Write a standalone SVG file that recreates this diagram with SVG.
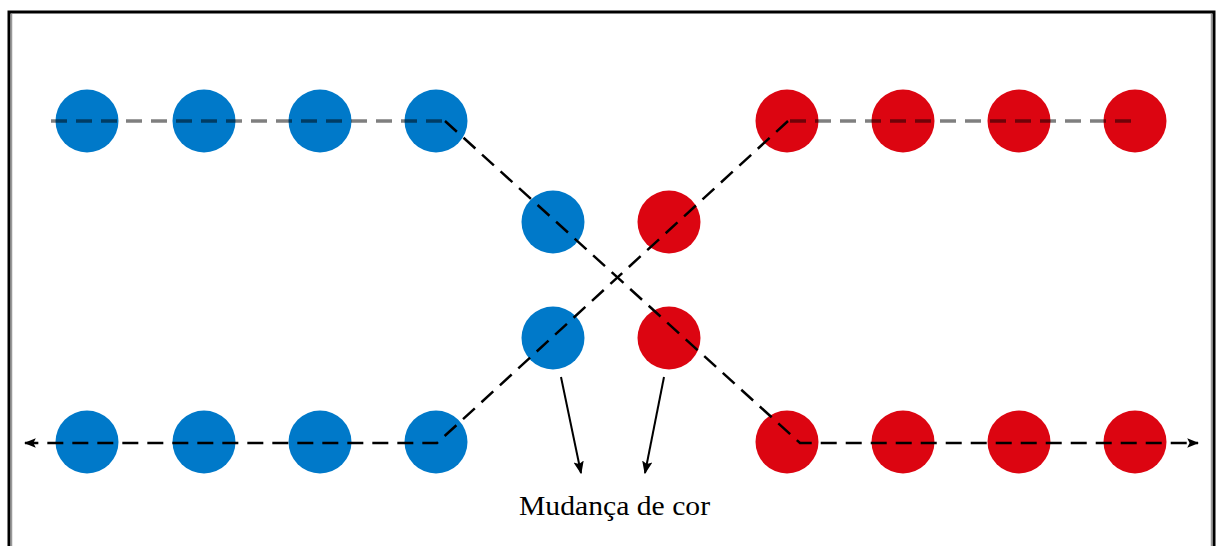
<svg xmlns="http://www.w3.org/2000/svg" width="1217" height="546" viewBox="0 0 1217 546">
<defs>
<style>
.blue{fill:#0079c9}
.red{fill:#dc0511}
.dash{fill:none;stroke:#000;stroke-width:2.5;stroke-dasharray:16 9}
.faint{stroke-opacity:0.5;stroke-width:3.5}
.arr{fill:none;stroke:#000;stroke-width:2}
.label{font-family:"Liberation Serif","Times New Roman",serif;font-size:28px;fill:#000}
</style>
<marker id="ah" viewBox="0 0 10 10" refX="9" refY="5" markerWidth="12" markerHeight="12" markerUnits="userSpaceOnUse" orient="auto">
<path d="M0,1 L10,5 L0,9 L2,5 Z" fill="#000"/>
</marker>
<marker id="ah2" viewBox="0 0 10 10" refX="9" refY="5" markerWidth="13" markerHeight="13" markerUnits="userSpaceOnUse" orient="auto">
<path d="M0,1 L10,5 L0,9 L2,5 Z" fill="#000"/>
</marker>
</defs>
<rect x="0" y="0" width="1217" height="546" fill="#fff"/>
<path d="M9,546 L9,12 L1214,12 L1214,546" fill="none" stroke="#000" stroke-width="3"/>
<path d="M11.5,546 L11.5,14 M1211.5,14 L1211.5,546" fill="none" stroke="#999" stroke-width="1.5"/>

<g id="b1"><circle class="blue" cx="87" cy="121" r="31.5"/></g>
<g id="b2"><circle class="blue" cx="204" cy="121" r="31.5"/></g>
<g id="b3"><circle class="blue" cx="320" cy="121" r="31.5"/></g>
<g id="b4"><circle class="blue" cx="436" cy="121" r="31.5"/></g>
<g id="b5"><circle class="blue" cx="553" cy="222" r="31.5"/></g>
<g id="b6"><circle class="blue" cx="553" cy="338" r="31.5"/></g>
<g id="b7"><circle class="blue" cx="87" cy="442" r="31.5"/></g>
<g id="b8"><circle class="blue" cx="204" cy="442" r="31.5"/></g>
<g id="b9"><circle class="blue" cx="320" cy="442" r="31.5"/></g>
<g id="b10"><circle class="blue" cx="436" cy="442" r="31.5"/></g>

<g id="r1"><circle class="red" cx="787" cy="121" r="31.5"/></g>
<g id="r2"><circle class="red" cx="903" cy="121" r="31.5"/></g>
<g id="r3"><circle class="red" cx="1019" cy="121" r="31.5"/></g>
<g id="r4"><circle class="red" cx="1135" cy="121" r="31.5"/></g>
<g id="r5"><circle class="red" cx="669" cy="222" r="31.5"/></g>
<g id="r6"><circle class="red" cx="669" cy="338" r="31.5"/></g>
<g id="r7"><circle class="red" cx="787" cy="442" r="31.5"/></g>
<g id="r8"><circle class="red" cx="903" cy="442" r="31.5"/></g>
<g id="r9"><circle class="red" cx="1019" cy="442" r="31.5"/></g>
<g id="r10"><circle class="red" cx="1135" cy="442" r="31.5"/></g>

<g id="connectors">
<path class="dash faint" d="M51,121 L445,121"/>
<path class="dash" d="M445,121 L800,443 L1198,443" marker-end="url(#ah)"/>
<path class="dash" d="M788,121 L437,443 L25,443" marker-end="url(#ah)"/>
<path class="dash faint" d="M790,121 L1136,121"/>
<path class="arr" d="M561,377 L581,473" marker-end="url(#ah2)"/>
<path class="arr" d="M664,377 L645,473" marker-end="url(#ah2)"/>
</g>

<text class="label" x="519" y="515" textLength="191" lengthAdjust="spacingAndGlyphs">Mudança de cor</text>
</svg>
